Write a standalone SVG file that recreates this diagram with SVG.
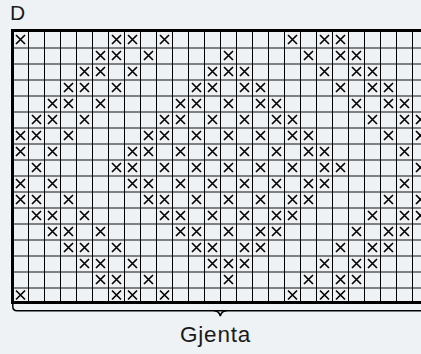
<svg xmlns="http://www.w3.org/2000/svg" xmlns:xlink="http://www.w3.org/1999/xlink" width="421" height="354" viewBox="0 0 421 354">
<style>
.bg{fill:#eff2f5}
.h{stroke:#808080;stroke-width:2}
.v{stroke:#000;stroke-width:1}
.b{stroke:#000;stroke-width:3}
.x{stroke:#000;stroke-width:1.6;fill:none}
.br{stroke:#000;stroke-width:1.5;fill:none}
.t{font-family:"Liberation Sans",Arial,sans-serif;fill:#1a1a1a}
</style>
<defs>
<path id="x" class="x" d="M-4.5,-4.5L4.5,4.5M4.5,-4.5L-4.5,4.5"/>
</defs>
<rect class="bg" x="0" y="0" width="421" height="354"/>
<text class="t" x="10" y="19.5" font-size="21">D</text>
<g id="grid">
<g id="rows">
<line class="h" x1="12" y1="48" x2="421" y2="48"/>
<line class="h" x1="12" y1="64" x2="421" y2="64"/>
<line class="h" x1="12" y1="80" x2="421" y2="80"/>
<line class="h" x1="12" y1="96" x2="421" y2="96"/>
<line class="h" x1="12" y1="112" x2="421" y2="112"/>
<line class="h" x1="12" y1="128" x2="421" y2="128"/>
<line class="h" x1="12" y1="144" x2="421" y2="144"/>
<line class="h" x1="12" y1="160" x2="421" y2="160"/>
<line class="h" x1="12" y1="176" x2="421" y2="176"/>
<line class="h" x1="12" y1="192" x2="421" y2="192"/>
<line class="h" x1="12" y1="208" x2="421" y2="208"/>
<line class="h" x1="12" y1="224" x2="421" y2="224"/>
<line class="h" x1="12" y1="240" x2="421" y2="240"/>
<line class="h" x1="12" y1="256" x2="421" y2="256"/>
<line class="h" x1="12" y1="272" x2="421" y2="272"/>
<line class="h" x1="12" y1="288" x2="421" y2="288"/>
</g>
<g id="cols">
<line class="v" x1="28.5" y1="31" x2="28.5" y2="302"/>
<line class="v" x1="44.5" y1="31" x2="44.5" y2="302"/>
<line class="v" x1="60.5" y1="31" x2="60.5" y2="302"/>
<line class="v" x1="76.5" y1="31" x2="76.5" y2="302"/>
<line class="v" x1="92.5" y1="31" x2="92.5" y2="302"/>
<line class="v" x1="108.5" y1="31" x2="108.5" y2="302"/>
<line class="v" x1="124.5" y1="31" x2="124.5" y2="302"/>
<line class="v" x1="140.5" y1="31" x2="140.5" y2="302"/>
<line class="v" x1="156.5" y1="31" x2="156.5" y2="302"/>
<line class="v" x1="172.5" y1="31" x2="172.5" y2="302"/>
<line class="v" x1="188.5" y1="31" x2="188.5" y2="302"/>
<line class="v" x1="204.5" y1="31" x2="204.5" y2="302"/>
<line class="v" x1="220.5" y1="31" x2="220.5" y2="302"/>
<line class="v" x1="236.5" y1="31" x2="236.5" y2="302"/>
<line class="v" x1="252.5" y1="31" x2="252.5" y2="302"/>
<line class="v" x1="268.5" y1="31" x2="268.5" y2="302"/>
<line class="v" x1="284.5" y1="31" x2="284.5" y2="302"/>
<line class="v" x1="300.5" y1="31" x2="300.5" y2="302"/>
<line class="v" x1="316.5" y1="31" x2="316.5" y2="302"/>
<line class="v" x1="332.5" y1="31" x2="332.5" y2="302"/>
<line class="v" x1="348.5" y1="31" x2="348.5" y2="302"/>
<line class="v" x1="364.5" y1="31" x2="364.5" y2="302"/>
<line class="v" x1="380.5" y1="31" x2="380.5" y2="302"/>
<line class="v" x1="396.5" y1="31" x2="396.5" y2="302"/>
<line class="v" x1="412.5" y1="31" x2="412.5" y2="302"/>
</g>
<g id="border">
<line class="b" x1="11" y1="30.5" x2="421" y2="30.5"/>
<line class="b" x1="12.5" y1="29" x2="12.5" y2="303.5"/>
<line class="b" x1="11" y1="302.5" x2="421" y2="302.5"/>
</g>
</g>
<g id="marks">
<g id="r0"><use href="#x" x="20.5" y="39.5"/><use href="#x" x="116.5" y="39.5"/><use href="#x" x="132.5" y="39.5"/><use href="#x" x="164.5" y="39.5"/><use href="#x" x="292.5" y="39.5"/><use href="#x" x="324.5" y="39.5"/><use href="#x" x="340.5" y="39.5"/></g>
<g id="r1"><use href="#x" x="100.5" y="55.5"/><use href="#x" x="116.5" y="55.5"/><use href="#x" x="148.5" y="55.5"/><use href="#x" x="228.5" y="55.5"/><use href="#x" x="308.5" y="55.5"/><use href="#x" x="340.5" y="55.5"/><use href="#x" x="356.5" y="55.5"/></g>
<g id="r2"><use href="#x" x="84.5" y="71.5"/><use href="#x" x="100.5" y="71.5"/><use href="#x" x="132.5" y="71.5"/><use href="#x" x="212.5" y="71.5"/><use href="#x" x="228.5" y="71.5"/><use href="#x" x="244.5" y="71.5"/><use href="#x" x="324.5" y="71.5"/><use href="#x" x="356.5" y="71.5"/><use href="#x" x="372.5" y="71.5"/></g>
<g id="r3"><use href="#x" x="68.5" y="87.5"/><use href="#x" x="84.5" y="87.5"/><use href="#x" x="116.5" y="87.5"/><use href="#x" x="196.5" y="87.5"/><use href="#x" x="212.5" y="87.5"/><use href="#x" x="244.5" y="87.5"/><use href="#x" x="260.5" y="87.5"/><use href="#x" x="340.5" y="87.5"/><use href="#x" x="372.5" y="87.5"/><use href="#x" x="388.5" y="87.5"/></g>
<g id="r4"><use href="#x" x="52.5" y="103.5"/><use href="#x" x="68.5" y="103.5"/><use href="#x" x="100.5" y="103.5"/><use href="#x" x="180.5" y="103.5"/><use href="#x" x="196.5" y="103.5"/><use href="#x" x="228.5" y="103.5"/><use href="#x" x="260.5" y="103.5"/><use href="#x" x="276.5" y="103.5"/><use href="#x" x="356.5" y="103.5"/><use href="#x" x="388.5" y="103.5"/><use href="#x" x="404.5" y="103.5"/></g>
<g id="r5"><use href="#x" x="36.5" y="119.5"/><use href="#x" x="52.5" y="119.5"/><use href="#x" x="84.5" y="119.5"/><use href="#x" x="164.5" y="119.5"/><use href="#x" x="180.5" y="119.5"/><use href="#x" x="212.5" y="119.5"/><use href="#x" x="244.5" y="119.5"/><use href="#x" x="276.5" y="119.5"/><use href="#x" x="292.5" y="119.5"/><use href="#x" x="372.5" y="119.5"/><use href="#x" x="404.5" y="119.5"/><use href="#x" x="420.5" y="119.5"/></g>
<g id="r6"><use href="#x" x="20.5" y="135.5"/><use href="#x" x="36.5" y="135.5"/><use href="#x" x="68.5" y="135.5"/><use href="#x" x="148.5" y="135.5"/><use href="#x" x="164.5" y="135.5"/><use href="#x" x="196.5" y="135.5"/><use href="#x" x="228.5" y="135.5"/><use href="#x" x="260.5" y="135.5"/><use href="#x" x="292.5" y="135.5"/><use href="#x" x="308.5" y="135.5"/><use href="#x" x="388.5" y="135.5"/><use href="#x" x="420.5" y="135.5"/></g>
<g id="r7"><use href="#x" x="20.5" y="151.5"/><use href="#x" x="52.5" y="151.5"/><use href="#x" x="132.5" y="151.5"/><use href="#x" x="148.5" y="151.5"/><use href="#x" x="180.5" y="151.5"/><use href="#x" x="212.5" y="151.5"/><use href="#x" x="244.5" y="151.5"/><use href="#x" x="276.5" y="151.5"/><use href="#x" x="308.5" y="151.5"/><use href="#x" x="324.5" y="151.5"/><use href="#x" x="404.5" y="151.5"/></g>
<g id="r8"><use href="#x" x="36.5" y="167.5"/><use href="#x" x="116.5" y="167.5"/><use href="#x" x="132.5" y="167.5"/><use href="#x" x="164.5" y="167.5"/><use href="#x" x="196.5" y="167.5"/><use href="#x" x="228.5" y="167.5"/><use href="#x" x="260.5" y="167.5"/><use href="#x" x="292.5" y="167.5"/><use href="#x" x="324.5" y="167.5"/><use href="#x" x="340.5" y="167.5"/><use href="#x" x="420.5" y="167.5"/></g>
<g id="r9"><use href="#x" x="20.5" y="183.5"/><use href="#x" x="52.5" y="183.5"/><use href="#x" x="132.5" y="183.5"/><use href="#x" x="148.5" y="183.5"/><use href="#x" x="180.5" y="183.5"/><use href="#x" x="212.5" y="183.5"/><use href="#x" x="244.5" y="183.5"/><use href="#x" x="276.5" y="183.5"/><use href="#x" x="308.5" y="183.5"/><use href="#x" x="324.5" y="183.5"/><use href="#x" x="404.5" y="183.5"/></g>
<g id="r10"><use href="#x" x="20.5" y="199.5"/><use href="#x" x="36.5" y="199.5"/><use href="#x" x="68.5" y="199.5"/><use href="#x" x="148.5" y="199.5"/><use href="#x" x="164.5" y="199.5"/><use href="#x" x="196.5" y="199.5"/><use href="#x" x="228.5" y="199.5"/><use href="#x" x="260.5" y="199.5"/><use href="#x" x="292.5" y="199.5"/><use href="#x" x="308.5" y="199.5"/><use href="#x" x="388.5" y="199.5"/><use href="#x" x="420.5" y="199.5"/></g>
<g id="r11"><use href="#x" x="36.5" y="215.5"/><use href="#x" x="52.5" y="215.5"/><use href="#x" x="84.5" y="215.5"/><use href="#x" x="164.5" y="215.5"/><use href="#x" x="180.5" y="215.5"/><use href="#x" x="212.5" y="215.5"/><use href="#x" x="244.5" y="215.5"/><use href="#x" x="276.5" y="215.5"/><use href="#x" x="292.5" y="215.5"/><use href="#x" x="372.5" y="215.5"/><use href="#x" x="404.5" y="215.5"/><use href="#x" x="420.5" y="215.5"/></g>
<g id="r12"><use href="#x" x="52.5" y="231.5"/><use href="#x" x="68.5" y="231.5"/><use href="#x" x="100.5" y="231.5"/><use href="#x" x="180.5" y="231.5"/><use href="#x" x="196.5" y="231.5"/><use href="#x" x="228.5" y="231.5"/><use href="#x" x="260.5" y="231.5"/><use href="#x" x="276.5" y="231.5"/><use href="#x" x="356.5" y="231.5"/><use href="#x" x="388.5" y="231.5"/><use href="#x" x="404.5" y="231.5"/></g>
<g id="r13"><use href="#x" x="68.5" y="247.5"/><use href="#x" x="84.5" y="247.5"/><use href="#x" x="116.5" y="247.5"/><use href="#x" x="196.5" y="247.5"/><use href="#x" x="212.5" y="247.5"/><use href="#x" x="244.5" y="247.5"/><use href="#x" x="260.5" y="247.5"/><use href="#x" x="340.5" y="247.5"/><use href="#x" x="372.5" y="247.5"/><use href="#x" x="388.5" y="247.5"/></g>
<g id="r14"><use href="#x" x="84.5" y="263.5"/><use href="#x" x="100.5" y="263.5"/><use href="#x" x="132.5" y="263.5"/><use href="#x" x="212.5" y="263.5"/><use href="#x" x="228.5" y="263.5"/><use href="#x" x="244.5" y="263.5"/><use href="#x" x="324.5" y="263.5"/><use href="#x" x="356.5" y="263.5"/><use href="#x" x="372.5" y="263.5"/></g>
<g id="r15"><use href="#x" x="100.5" y="279.5"/><use href="#x" x="116.5" y="279.5"/><use href="#x" x="148.5" y="279.5"/><use href="#x" x="228.5" y="279.5"/><use href="#x" x="308.5" y="279.5"/><use href="#x" x="340.5" y="279.5"/><use href="#x" x="356.5" y="279.5"/></g>
<g id="r16"><use href="#x" x="20.5" y="295"/><use href="#x" x="116.5" y="295"/><use href="#x" x="132.5" y="295"/><use href="#x" x="164.5" y="295"/><use href="#x" x="292.5" y="295"/><use href="#x" x="324.5" y="295"/><use href="#x" x="340.5" y="295"/></g>
</g>
<g id="repeat">
<path class="br" d="M12.8,303V306.5Q12.8,310.7 17,310.7H421"/>
<path class="br" d="M214,310.7Q219,310.7 220.3,316Q221.6,310.7 226.6,310.7"/>
<text class="t" x="180" y="341.5" font-size="22.5" letter-spacing="0.8">Gjenta</text>
</g>
</svg>
